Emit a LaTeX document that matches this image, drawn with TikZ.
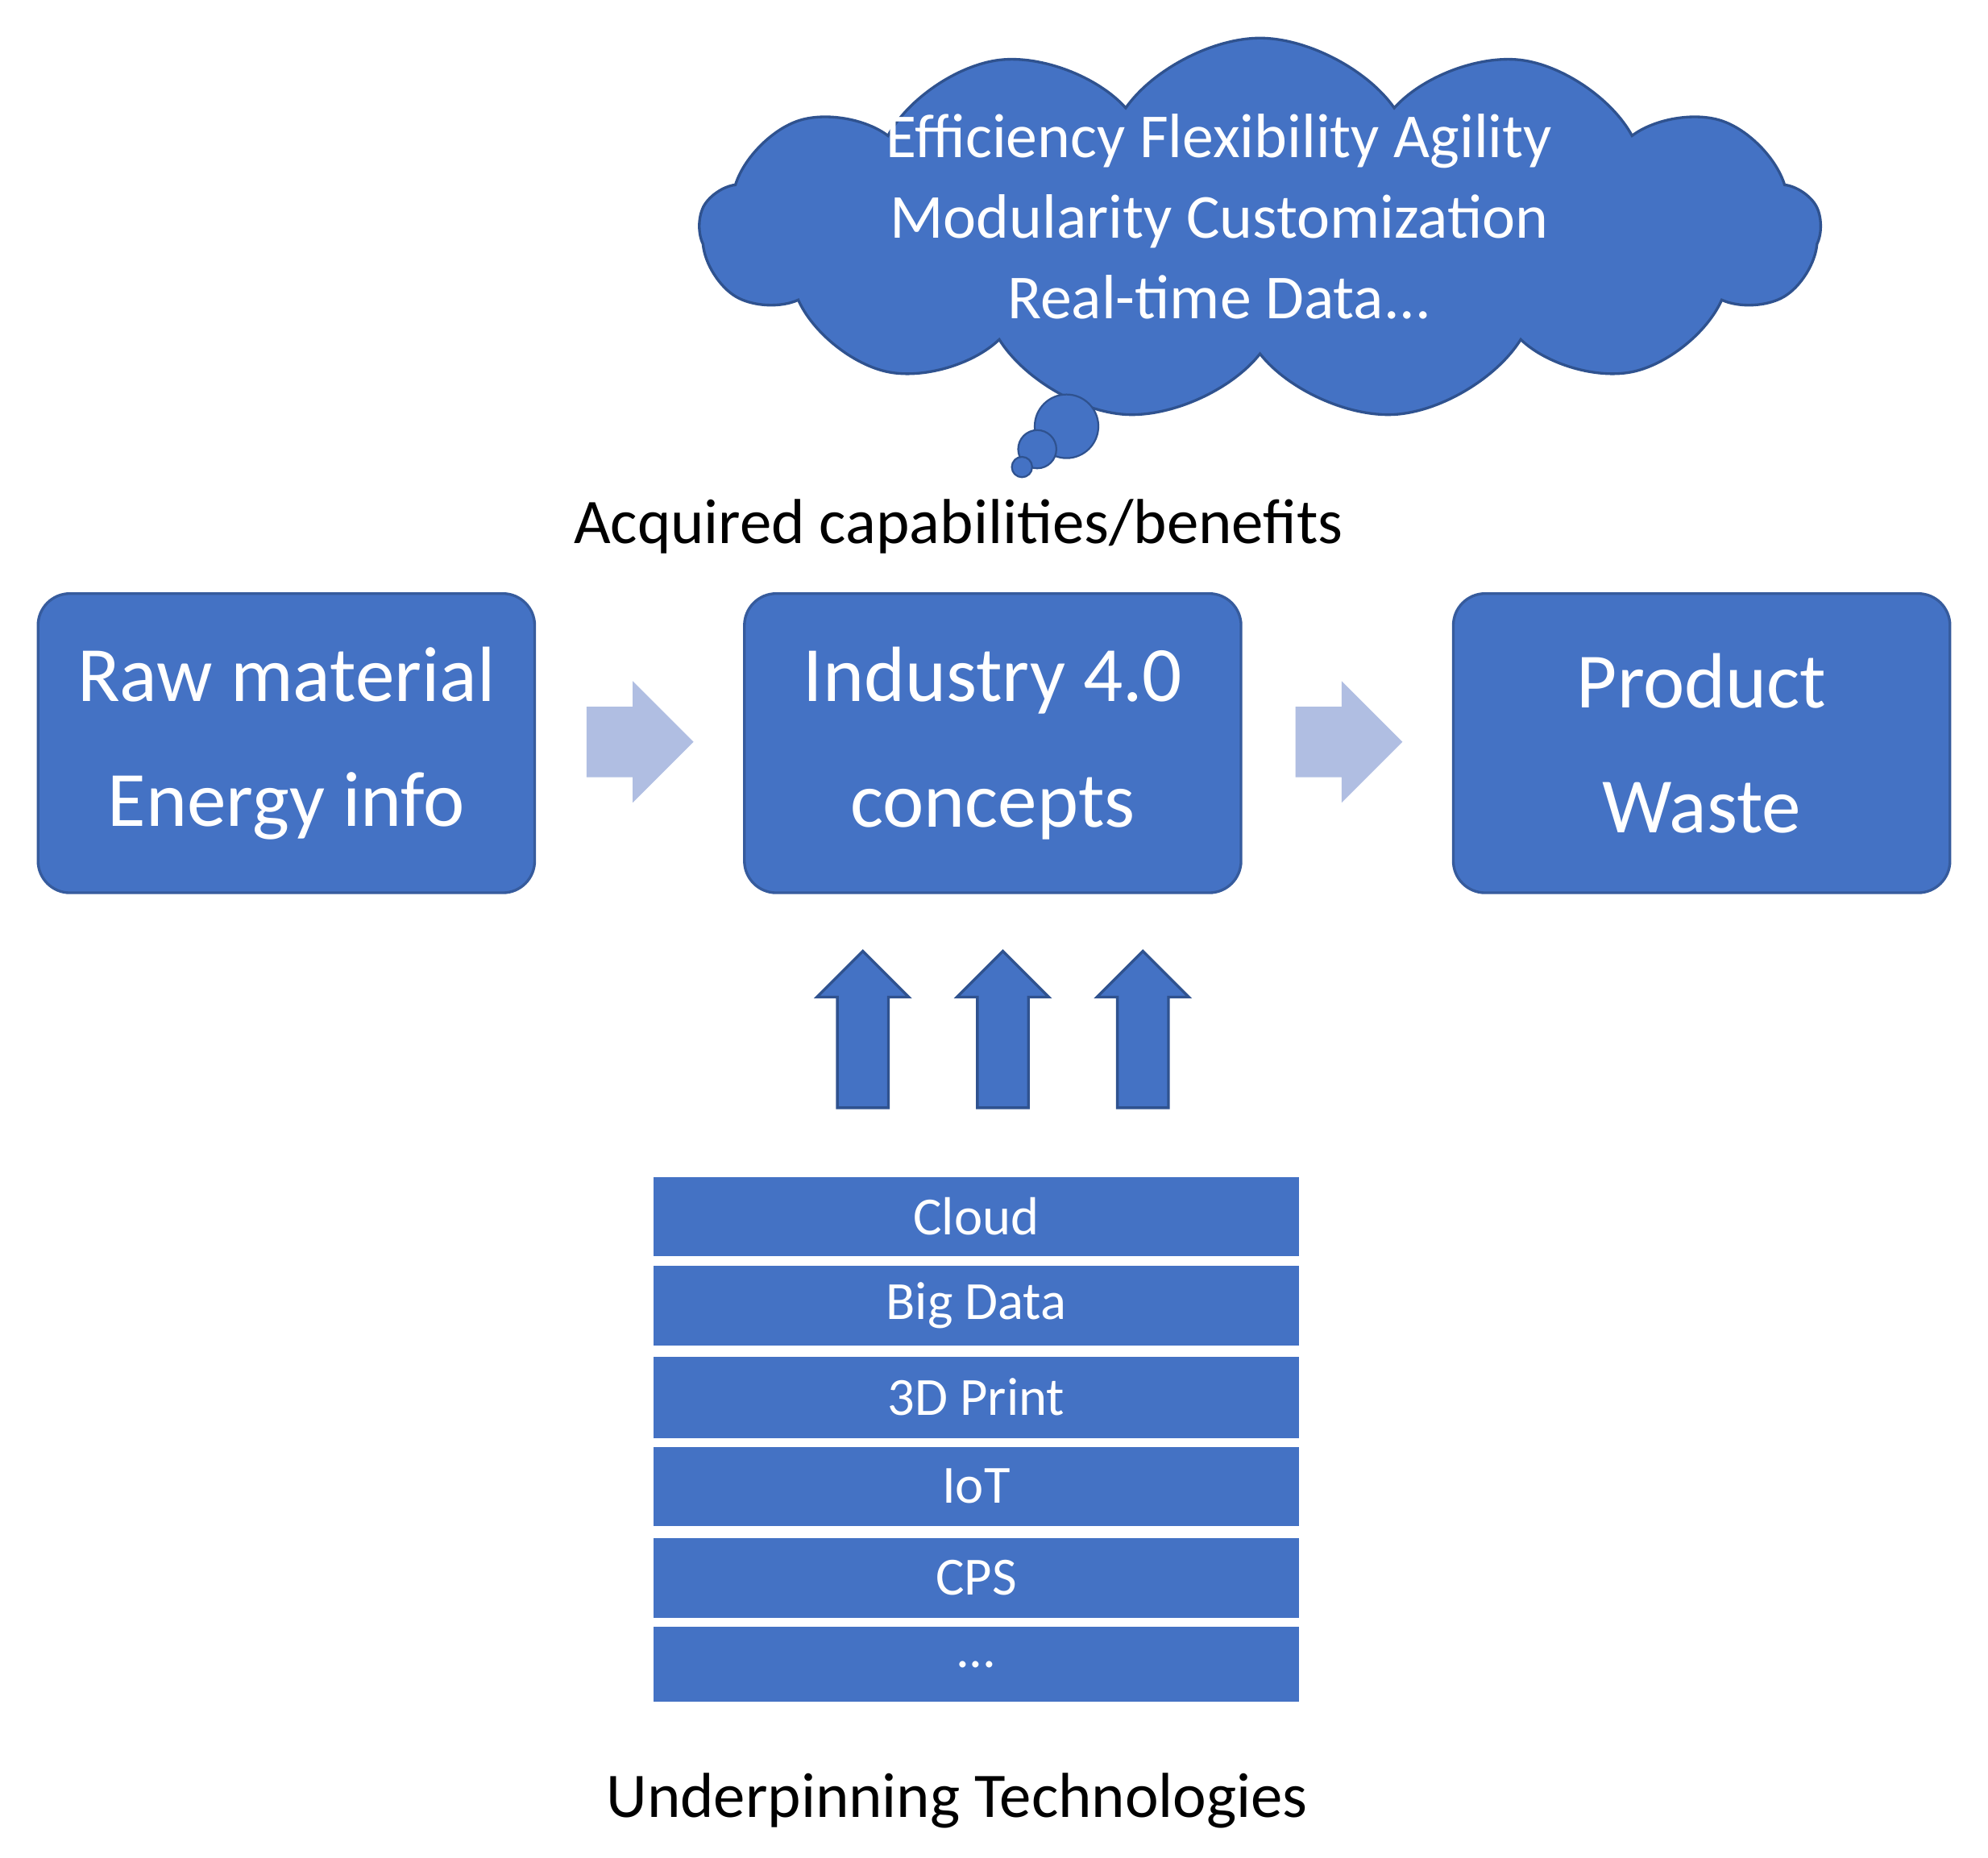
\documentclass[tikz,border=0pt]{standalone}
\usepackage{fontspec}
\setmainfont{Carlito}
\usetikzlibrary{shapes.symbols,shapes.arrows}
\definecolor{mblue}{HTML}{4472C4}
\definecolor{lblue}{HTML}{B0BEE2}
\definecolor{dblue}{HTML}{2F528F}
\begin{document}
\begin{tikzpicture}[x=0.01cm,y=-0.01cm,
  bigbox/.style={draw=mblue!80!black,fill=mblue,rounded corners=0.25cm,minimum width=3.9cm,minimum height=2.35cm,text=white,font=\fontsize{17.5}{28}\selectfont,align=center,line width=0.6pt},
  rarrow/.style={single arrow,fill=lblue,minimum height=0.84cm,minimum width=0.95cm,single arrow head extend=0.2cm,inner xsep=0pt,inner ysep=0.27cm},
  uarrow/.style={single arrow,fill=mblue,draw=dblue,line width=0.6pt,shape border rotate=90,minimum height=1.23cm,minimum width=0.72cm,single arrow head extend=0.16cm,inner sep=0.19cm},
  bar/.style={fill=mblue,minimum width=5.07cm,text=white,font=\fontsize{12}{14}\selectfont,inner sep=0pt},
  lbl/.style={font=\fontsize{14.2}{16}\selectfont}]
\useasboundingbox (0,0) rectangle (1562,1460);
\node[cloud,cloud puffs=13,cloud puff arc=110,aspect=2.9,fill=mblue,draw=dblue,line width=0.6pt,minimum width=8.8cm,minimum height=3.0cm] (cl) at (990,180) {};
\node[text=white,align=center,font=\fontsize{14}{18}\selectfont] (ct) at (958,170) {Efficiency Flexibility Agility\\Modularity Customization\\Real-time Data...};
\node[circle,fill=mblue,draw=dblue,minimum size=0.5cm,inner sep=0pt] (b1) at (838,335) {};
\node[circle,fill=mblue,draw=dblue,minimum size=0.3cm,inner sep=0pt] (b2) at (815,353) {};
\node[circle,fill=mblue,draw=dblue,minimum size=0.16cm,inner sep=0pt] (b3) at (803,367) {};
\node[lbl] (acq) at (753,414) {Acquired capabilities/benefits};
\node[bigbox] (raw) at (225,584) {Raw material\\Energy info};
\node[bigbox] (ind) at (780,584) {Industry 4.0\\concepts};
\node[bigbox] (prod) at (1337,584) {Product\\Waste};
\node[rarrow] (a1) at (489,583) {};
\node[rarrow] (a2) at (1046,583) {};
\node[uarrow] (u1) at (678,819) {};
\node[uarrow] (u2) at (788,819) {};
\node[uarrow] (u3) at (898,819) {};
\node[bar,minimum height=0.62cm] (t1) at (767,956) {Cloud};
\node[bar,minimum height=0.63cm] (t2) at (767,1026) {Big Data};
\node[bar,minimum height=0.64cm] (t3) at (767,1098) {3D Print};
\node[bar,minimum height=0.62cm] (t4) at (767,1168) {IoT};
\node[bar,minimum height=0.63cm] (t5) at (767,1240) {CPS};
\node[bar,minimum height=0.59cm] (t6) at (767,1308) {...};
\node[lbl] (und) at (752,1415) {Underpinning Technologies};
\end{tikzpicture}
\end{document}
